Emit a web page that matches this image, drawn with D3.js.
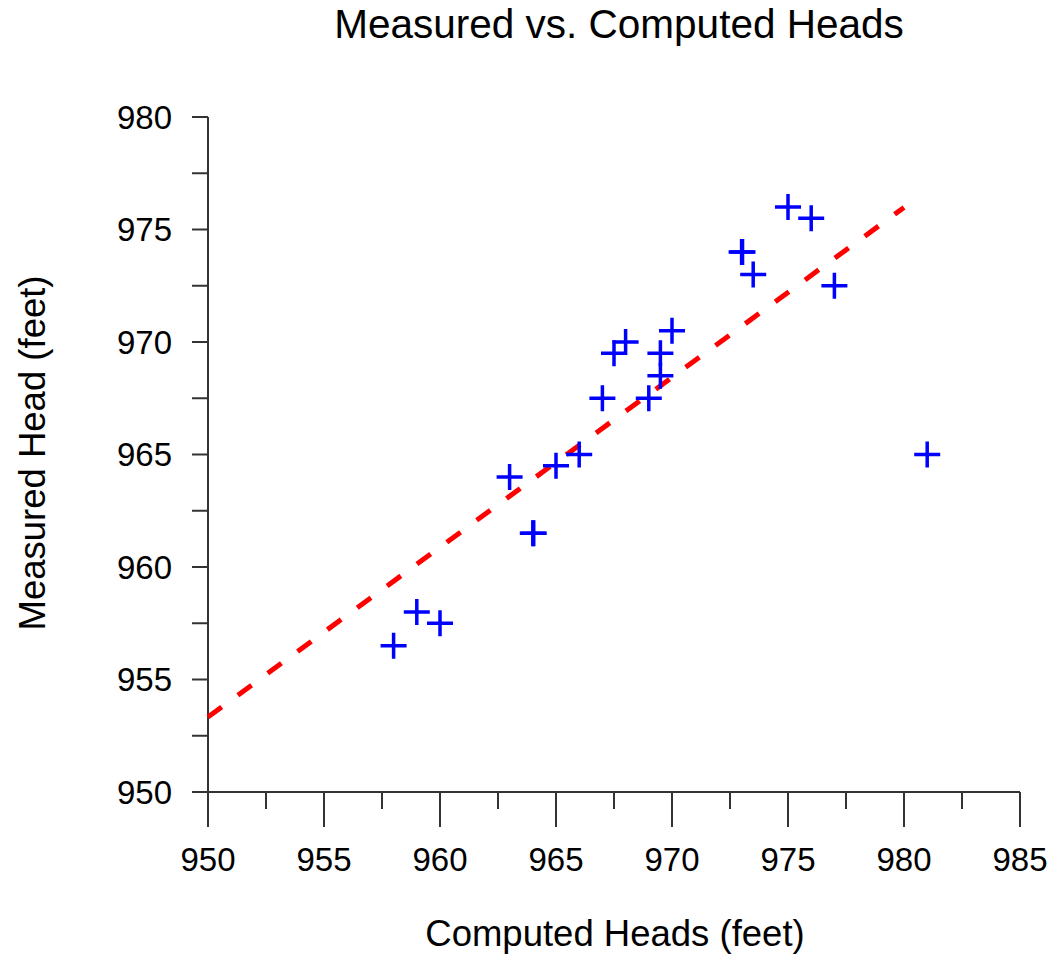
<!DOCTYPE html>
<html>
<head>
<meta charset="utf-8">
<script src="https://cdn.jsdelivr.net/npm/d3@7"></script>
<style>
html,body{margin:0;padding:0;background:#fff;}
svg{display:block;font-family:"Liberation Sans",Arial,sans-serif;}
</style>
</head>
<body>
<svg id="chart" width="1053" height="955"></svg>
<script>
const computedHeads = [958, 959, 960, 963, 964, 964.04, 965, 966, 967, 967.5, 968, 969, 969.5, 969.5, 970, 973, 973.04, 973.5, 975, 976, 977, 981];
const measuredHeads = [956.5, 958, 957.5, 964, 961.5, 961.5, 964.5, 965, 967.5, 969.5, 970, 967.5, 968.5, 969.5, 970.5, 974, 974, 973, 976, 975.5, 972.5, 965];
const fitX = [950, 980];
const fitY = [953.33, 975.98];
const xTicks = [950, 955, 960, 965, 970, 975, 980, 985];
const yTicks = [950, 955, 960, 965, 970, 975, 980];
const titleText = "Measured vs. Computed Heads";
const xLabel = "Computed Heads (feet)";
const yLabel = "Measured Head (feet)";

const svg = d3.select("#chart");
const x = d3.scaleLinear().domain([950, 985]).range([208, 1020]);
const y = d3.scaleLinear().domain([950, 980]).range([792, 117]);
const axisColor = "#333";

// x axis
const xMinor = d3.range(950, 985.01, 2.5);
const gx = svg.append("g").attr("transform", `translate(0,${y(950)})`);
gx.append("line").attr("x1", 192).attr("x2", x(985)).attr("stroke", axisColor).attr("stroke-width", 2);
gx.selectAll("line.t").data(xMinor).join("line").attr("class", "t")
  .attr("x1", d => x(d)).attr("x2", d => x(d)).attr("y1", 0)
  .attr("y2", d => (d % 5 === 0 ? 35 : 17))
  .attr("stroke", axisColor).attr("stroke-width", 2);
gx.selectAll("text").data(xTicks).join("text")
  .attr("x", d => x(d)).attr("y", 79).attr("text-anchor", "middle")
  .attr("font-size", 33).attr("fill", "#000").text(d => d);

// y axis
const yMinor = d3.range(950, 980.01, 2.5);
const gy = svg.append("g").attr("transform", `translate(${x(950)},0)`);
gy.append("line").attr("y1", y(980)).attr("y2", y(950) + 35).attr("stroke", axisColor).attr("stroke-width", 2);
gy.selectAll("line.t").data(yMinor).join("line").attr("class", "t")
  .attr("y1", d => y(d)).attr("y2", d => y(d)).attr("x1", 0).attr("x2", -16)
  .attr("stroke", axisColor).attr("stroke-width", 2);
gy.selectAll("text").data(yTicks).join("text")
  .attr("x", -36).attr("y", d => y(d)).attr("dy", "0.36em").attr("text-anchor", "end")
  .attr("font-size", 33).attr("fill", "#000").text(d => d);

// fit line
svg.append("path")
  .datum(fitX.map((v, i) => [v, fitY[i]]))
  .attr("d", d3.line().x(d => x(d[0])).y(d => y(d[1])))
  .attr("fill", "none").attr("stroke", "#ff0000").attr("stroke-width", 5)
  .attr("stroke-dasharray", "17,20");

// points as crosses
const s = 13;
const pts = computedHeads.map((v, i) => [v, measuredHeads[i]]);
const gp = svg.append("g").attr("stroke", "#0000ff").attr("stroke-width", 3.5);
gp.selectAll("path").data(pts).join("path")
  .attr("d", d => {
    const cx = x(d[0]), cy = y(d[1]);
    return `M${cx - s},${cy}H${cx + s}M${cx},${cy - s}V${cy + s}`;
  });

// titles
svg.append("text").attr("x", 619).attr("y", 38).attr("text-anchor", "middle")
  .attr("font-size", 40.5).attr("fill", "#000").text(titleText);
svg.append("text").attr("x", 615).attr("y", 946).attr("text-anchor", "middle")
  .attr("font-size", 36.5).attr("fill", "#000").text(xLabel);
svg.append("text").attr("transform", `translate(45,453) rotate(-90)`).attr("text-anchor", "middle")
  .attr("font-size", 36.5).attr("fill", "#000").text(yLabel);
</script>
</body>
</html>
